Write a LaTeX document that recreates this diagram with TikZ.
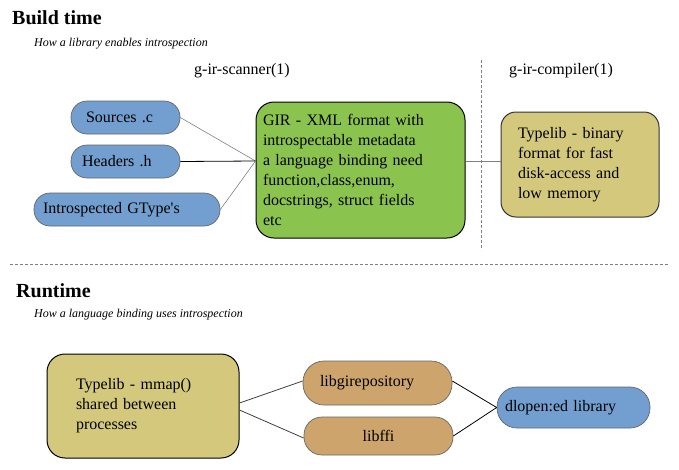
\documentclass[tikz,border=0pt]{standalone}
\usepackage{fontspec}
\setmainfont{Liberation Serif}
\definecolor{pillblue}{HTML}{729FCF}
\definecolor{girgreen}{HTML}{8BC34F}
\definecolor{typelibolive}{HTML}{D3C87B}
\definecolor{libtan}{HTML}{CCA46C}
\tikzset{
    body/.style={font=\fontsize{16}{20}\selectfont},
    pill/.style={body, draw=gray!80!black, line width=0.7pt, align=left, inner ysep=0pt},
    bigbox/.style={body, draw=black, line width=1pt, rounded corners=18pt, align=left, inner ysep=0pt},
    heading/.style={font=\fontsize{20}{24}\selectfont\bfseries, anchor=west, inner sep=0pt},
    subheading/.style={font=\fontsize{12}{14}\selectfont\itshape, anchor=west, inner sep=0pt},
    toolname/.style={body, inner sep=0pt},
    separator/.style={draw=gray, line width=0.8pt, dash pattern=on 3pt off 2pt},
    link/.style={draw=black, line width=0.8pt}
}
\begin{document}
\begin{tikzpicture}[x=1pt, y=-1pt]
    \useasboundingbox (0, 0) rectangle (679, 469);

    % build time
    \node (buildtitle) [heading] at (12, 18) {Build time};
    \node (buildsub) [subheading] at (34, 44) {How a library enables introspection};
    \node (scanner) [toolname] at (242, 71) {g-ir-scanner(1)};
    \node (compiler) [toolname] at (561, 71) {g-ir-compiler(1)};

    \node (sources) [pill, fill=pillblue, rounded corners=16pt, minimum height=33pt, inner xsep=15pt, text width=79pt] at (125.5, 117.5) {Sources .c};
    \node (headers) [pill, fill=pillblue, rounded corners=16pt, minimum height=33pt, inner xsep=11pt, text width=87pt] at (125.5, 161.5) {Headers .h};
    \node (gtypes) [pill, fill=pillblue, rounded corners=16pt, minimum height=33pt, inner xsep=9pt, text width=168pt] at (127, 209.5) {Introspected GType\textquotesingle s};

    \node (gir) [bigbox, fill=girgreen, minimum height=136pt, inner xsep=7pt, text width=195pt] at (360.5, 170) {GIR - XML format with\\introspectable metadata\\a language binding need\\function,class,enum,\\docstrings, struct fields\\etc};
    \node (typelib) [bigbox, fill=typelibolive, draw=black!80, rounded corners=15pt, minimum height=105pt, inner xsep=17pt, text width=124pt] at (580, 164.5) {Typelib - binary\\format for fast\\disk-access and\\low memory\par\vspace*{8pt}};

    \draw[link, draw=gray, line width=0.6pt] (sources.east) -- ([yshift=9pt]gir.west);
    \draw[link] (headers.east) -- ([yshift=9pt]gir.west);
    \draw[link, draw=gray, line width=0.6pt] (gtypes.east) -- ([yshift=9pt]gir.west);
    \draw[link, draw=gray] ([yshift=9pt]gir.east) -- ([yshift=3.5pt]typelib.west);

    \draw[separator] (481, 60) -- (481, 250);
    \draw[separator] (10, 264) -- (668, 264);

    % runtime
    \node (runtitle) [heading] at (16, 291) {Runtime};
    \node (runsub) [subheading] at (34, 315) {How a language binding uses introspection};

    \node (mmap) [bigbox, fill=typelibolive, minimum height=104pt, inner xsep=29pt, text width=134pt] at (143, 406) {Typelib - mmap()\\shared between\\processes};
    \node (girepo) [pill, fill=libtan, rounded corners=21pt, minimum height=44pt, inner xsep=17pt, text width=115pt] at (377.5, 383) {libgirepository};
    \node (ffi) [pill, fill=libtan, rounded corners=18pt, minimum height=38pt, inner xsep=8pt, text width=133pt, align=center] at (378.5, 436) {libffi};
    \node (dlopen) [pill, fill=pillblue, rounded corners=20pt, minimum height=41pt, inner xsep=8pt, text width=137pt] at (573.5, 407.5) {dlopen:ed library};

    \draw[link, draw=black!75] ([yshift=3pt]mmap.east) -- ([yshift=2pt]girepo.west);
    \draw[link, draw=black!75] ([yshift=-4pt]mmap.east) -- ([yshift=-2pt]ffi.west);
    \draw[link] ([yshift=2pt]girepo.east) -- (dlopen.west);
    \draw[link] (ffi.east) -- (dlopen.west);
\end{tikzpicture}
\end{document}
